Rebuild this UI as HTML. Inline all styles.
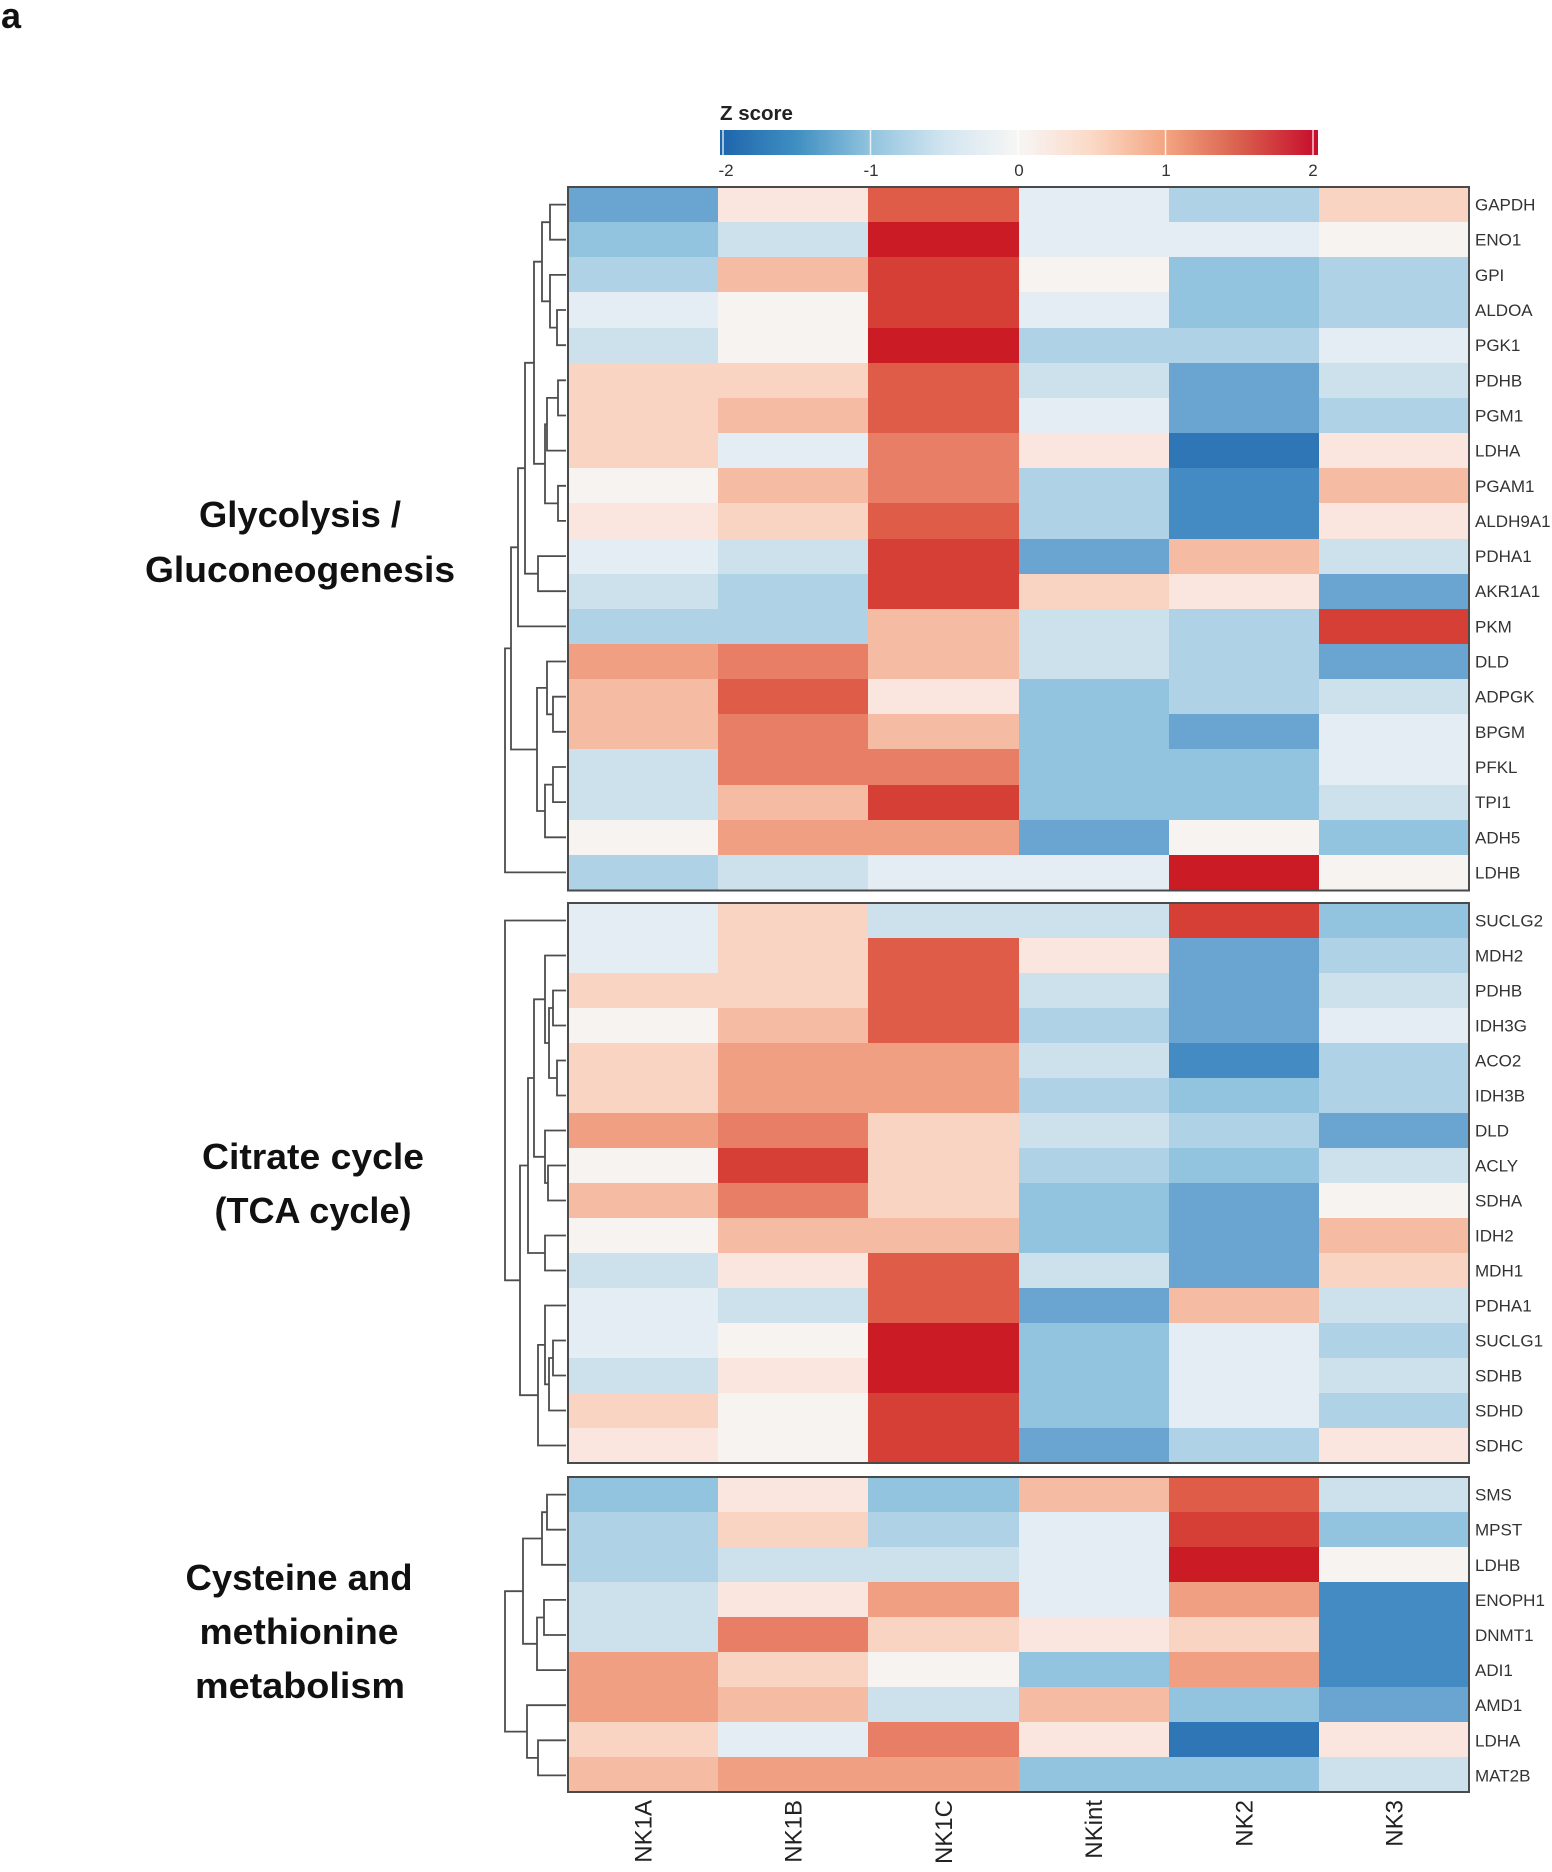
<!DOCTYPE html>
<html><head><meta charset="utf-8"><style>
html,body{margin:0;padding:0;background:#fff}
body{width:1552px;height:1872px;position:relative;overflow:hidden;font-family:"Liberation Sans",Arial,sans-serif}
.g{position:absolute;left:568px;width:901px;display:grid;grid-template-columns:repeat(6,1fr)}
.g i{display:block}
#g1{top:187px;height:703px;grid-template-rows:repeat(20,1fr)}
#g2{top:903px;height:560px;grid-template-rows:repeat(16,1fr)}
#g3{top:1477px;height:315px;grid-template-rows:repeat(9,1fr)}
.B6{background:#2f76b6}.B5{background:#448ac3}.B4{background:#6aa4d0}.B3{background:#92c3df}
.B2{background:#afd2e6}.B1{background:#cde1ed}.B0{background:#e4edf3}.W{background:#f6f3f1}
.R0{background:#fae6de}.R1{background:#f9d4c3}.R2{background:#f6bca3}.R3{background:#f19f82}
.R4{background:#e97e66}.R5{background:#df5c49}.R6{background:#d53f35}.R7{background:#cb1b25}
svg{position:absolute;left:0;top:0}
</style></head><body>
<div class="g" id="g1">
<i class="B4"></i><i class="R0"></i><i class="R5"></i><i class="B0"></i><i class="B2"></i><i class="R1"></i>
<i class="B3"></i><i class="B1"></i><i class="R7"></i><i class="B0"></i><i class="B0"></i><i class="W"></i>
<i class="B2"></i><i class="R2"></i><i class="R6"></i><i class="W"></i><i class="B3"></i><i class="B2"></i>
<i class="B0"></i><i class="W"></i><i class="R6"></i><i class="B0"></i><i class="B3"></i><i class="B2"></i>
<i class="B1"></i><i class="W"></i><i class="R7"></i><i class="B2"></i><i class="B2"></i><i class="B0"></i>
<i class="R1"></i><i class="R1"></i><i class="R5"></i><i class="B1"></i><i class="B4"></i><i class="B1"></i>
<i class="R1"></i><i class="R2"></i><i class="R5"></i><i class="B0"></i><i class="B4"></i><i class="B2"></i>
<i class="R1"></i><i class="B0"></i><i class="R4"></i><i class="R0"></i><i class="B6"></i><i class="R0"></i>
<i class="W"></i><i class="R2"></i><i class="R4"></i><i class="B2"></i><i class="B5"></i><i class="R2"></i>
<i class="R0"></i><i class="R1"></i><i class="R5"></i><i class="B2"></i><i class="B5"></i><i class="R0"></i>
<i class="B0"></i><i class="B1"></i><i class="R6"></i><i class="B4"></i><i class="R2"></i><i class="B1"></i>
<i class="B1"></i><i class="B2"></i><i class="R6"></i><i class="R1"></i><i class="R0"></i><i class="B4"></i>
<i class="B2"></i><i class="B2"></i><i class="R2"></i><i class="B1"></i><i class="B2"></i><i class="R6"></i>
<i class="R3"></i><i class="R4"></i><i class="R2"></i><i class="B1"></i><i class="B2"></i><i class="B4"></i>
<i class="R2"></i><i class="R5"></i><i class="R0"></i><i class="B3"></i><i class="B2"></i><i class="B1"></i>
<i class="R2"></i><i class="R4"></i><i class="R2"></i><i class="B3"></i><i class="B4"></i><i class="B0"></i>
<i class="B1"></i><i class="R4"></i><i class="R4"></i><i class="B3"></i><i class="B3"></i><i class="B0"></i>
<i class="B1"></i><i class="R2"></i><i class="R6"></i><i class="B3"></i><i class="B3"></i><i class="B1"></i>
<i class="W"></i><i class="R3"></i><i class="R3"></i><i class="B4"></i><i class="W"></i><i class="B3"></i>
<i class="B2"></i><i class="B1"></i><i class="B0"></i><i class="B0"></i><i class="R7"></i><i class="W"></i>
</div>
<div class="g" id="g2">
<i class="B0"></i><i class="R1"></i><i class="B1"></i><i class="B1"></i><i class="R6"></i><i class="B3"></i>
<i class="B0"></i><i class="R1"></i><i class="R5"></i><i class="R0"></i><i class="B4"></i><i class="B2"></i>
<i class="R1"></i><i class="R1"></i><i class="R5"></i><i class="B1"></i><i class="B4"></i><i class="B1"></i>
<i class="W"></i><i class="R2"></i><i class="R5"></i><i class="B2"></i><i class="B4"></i><i class="B0"></i>
<i class="R1"></i><i class="R3"></i><i class="R3"></i><i class="B1"></i><i class="B5"></i><i class="B2"></i>
<i class="R1"></i><i class="R3"></i><i class="R3"></i><i class="B2"></i><i class="B3"></i><i class="B2"></i>
<i class="R3"></i><i class="R4"></i><i class="R1"></i><i class="B1"></i><i class="B2"></i><i class="B4"></i>
<i class="W"></i><i class="R6"></i><i class="R1"></i><i class="B2"></i><i class="B3"></i><i class="B1"></i>
<i class="R2"></i><i class="R4"></i><i class="R1"></i><i class="B3"></i><i class="B4"></i><i class="W"></i>
<i class="W"></i><i class="R2"></i><i class="R2"></i><i class="B3"></i><i class="B4"></i><i class="R2"></i>
<i class="B1"></i><i class="R0"></i><i class="R5"></i><i class="B1"></i><i class="B4"></i><i class="R1"></i>
<i class="B0"></i><i class="B1"></i><i class="R5"></i><i class="B4"></i><i class="R2"></i><i class="B1"></i>
<i class="B0"></i><i class="W"></i><i class="R7"></i><i class="B3"></i><i class="B0"></i><i class="B2"></i>
<i class="B1"></i><i class="R0"></i><i class="R7"></i><i class="B3"></i><i class="B0"></i><i class="B1"></i>
<i class="R1"></i><i class="W"></i><i class="R6"></i><i class="B3"></i><i class="B0"></i><i class="B2"></i>
<i class="R0"></i><i class="W"></i><i class="R6"></i><i class="B4"></i><i class="B2"></i><i class="R0"></i>
</div>
<div class="g" id="g3">
<i class="B3"></i><i class="R0"></i><i class="B3"></i><i class="R2"></i><i class="R5"></i><i class="B1"></i>
<i class="B2"></i><i class="R1"></i><i class="B2"></i><i class="B0"></i><i class="R6"></i><i class="B3"></i>
<i class="B2"></i><i class="B1"></i><i class="B1"></i><i class="B0"></i><i class="R7"></i><i class="W"></i>
<i class="B1"></i><i class="R0"></i><i class="R3"></i><i class="B0"></i><i class="R3"></i><i class="B5"></i>
<i class="B1"></i><i class="R4"></i><i class="R1"></i><i class="R0"></i><i class="R1"></i><i class="B5"></i>
<i class="R3"></i><i class="R1"></i><i class="W"></i><i class="B3"></i><i class="R3"></i><i class="B5"></i>
<i class="R3"></i><i class="R2"></i><i class="B1"></i><i class="R2"></i><i class="B3"></i><i class="B4"></i>
<i class="R1"></i><i class="B0"></i><i class="R4"></i><i class="R0"></i><i class="B6"></i><i class="R0"></i>
<i class="R2"></i><i class="R3"></i><i class="R3"></i><i class="B3"></i><i class="B3"></i><i class="B1"></i>
</div>
<svg width="1552" height="1872" viewBox="0 0 1552 1872" xmlns="http://www.w3.org/2000/svg">
<defs>
<linearGradient id="cb" x1="0" x2="1" y1="0" y2="0">
<stop offset="0.005" stop-color="#1f66ad"/>
<stop offset="0.128" stop-color="#3f8fc2"/>
<stop offset="0.252" stop-color="#92c4de"/>
<stop offset="0.375" stop-color="#d2e5f0"/>
<stop offset="0.498" stop-color="#f7f6f5"/>
<stop offset="0.622" stop-color="#fbd9c6"/>
<stop offset="0.745" stop-color="#f3a582"/>
<stop offset="0.868" stop-color="#d9604d"/>
<stop offset="0.992" stop-color="#c8102e"/>
</linearGradient>
</defs>
<text x="1" y="28" font-family="Liberation Sans, Arial, sans-serif" font-weight="bold" font-size="36" fill="#111">a</text>
<text x="720" y="120" font-family="Liberation Sans, Arial, sans-serif" font-weight="bold" font-size="20.5" fill="#222">Z score</text>
<rect x="720" y="130" width="598" height="25" fill="url(#cb)"/>
<g stroke="#ffffff" stroke-width="1.5" opacity="0.8">
<line x1="723" y1="130" x2="723" y2="155"/><line x1="870.5" y1="130" x2="870.5" y2="155"/>
<line x1="1018" y1="130" x2="1018" y2="155"/><line x1="1165.5" y1="130" x2="1165.5" y2="155"/>
<line x1="1313" y1="130" x2="1313" y2="155"/>
</g>
<g font-family="Liberation Sans, Arial, sans-serif" font-size="17" fill="#333" text-anchor="middle">
<text x="726" y="176">-2</text><text x="871" y="176">-1</text><text x="1019" y="176">0</text>
<text x="1166" y="176">1</text><text x="1313" y="176">2</text>
</g>
<g fill="none" stroke="#4a4a4a" stroke-width="2">
<rect x="568" y="187" width="901" height="703.5"/>
<rect x="568" y="903" width="901" height="560"/>
<rect x="568" y="1477" width="901" height="315"/>
</g>
<g fill="none" stroke="#4d4d4d" stroke-width="1.8">
<path d="M566 204.6H550V239.7H566M566 310H557V345.2H566M566 274.9H550V327.6H557M550 222.2H542V301.3H550M566 380.3H558V415.5H566M558 397.9H547V450.6H566M566 485.8H558V520.9H566M547 424.3H545V503.4H558M542 261.7H534V463.8H545M566 556.1H538V591.2H566M534 362.8H525V573.7H538M525 468.2H518V626.4H566M566 696.7H553V731.8H566M566 661.5H547V714.3H553M566 767H553V802.1H566M553 784.6H545V837.3H566M547 687.9H537V811H545M518 547.3H511V749.5H537M511 648.4H505V872.4H566"/>
<path d="M566 990.5H553V1025.5H566M566 1060.5H557V1095.5H566M553 1008H549V1078H557M566 955.5H545V1043H549M566 1165.5H548V1200.5H566M566 1130.5H545V1183H548M545 999.3H534V1156.8H545M566 1235.5H545V1270.5H566M534 1078H528V1253H545M566 1340.5H553V1375.5H566M553 1358H549V1410.5H566M566 1305.5H545V1384.3H549M545 1344.9H538V1445.5H566M528 1165.5H520V1395.2H538M566 920.5H505V1280.3H520"/>
<path d="M566 1494.6H547V1529.7H566M547 1512.2H542V1564.8H566M566 1599.9H544V1635H566M544 1617.5H537V1670.1H566M542 1538.5H523V1643.8H537M566 1740.3H538V1775.4H566M566 1705.2H527V1757.9H538M523 1591.2H505V1731.6H527"/>
</g>
<g font-family="Liberation Sans, Arial, sans-serif" font-size="17" fill="#333">
<text x="1475" y="210.6">GAPDH</text><text x="1475" y="245.7">ENO1</text><text x="1475" y="280.9">GPI</text>
<text x="1475" y="316">ALDOA</text><text x="1475" y="351.2">PGK1</text><text x="1475" y="386.3">PDHB</text>
<text x="1475" y="421.5">PGM1</text><text x="1475" y="456.6">LDHA</text><text x="1475" y="491.8">PGAM1</text>
<text x="1475" y="526.9">ALDH9A1</text><text x="1475" y="562.1">PDHA1</text><text x="1475" y="597.2">AKR1A1</text>
<text x="1475" y="632.4">PKM</text><text x="1475" y="667.5">DLD</text><text x="1475" y="702.7">ADPGK</text>
<text x="1475" y="737.8">BPGM</text><text x="1475" y="773">PFKL</text><text x="1475" y="808.1">TPI1</text>
<text x="1475" y="843.3">ADH5</text><text x="1475" y="878.4">LDHB</text>
<text x="1475" y="926.5">SUCLG2</text><text x="1475" y="961.5">MDH2</text><text x="1475" y="996.5">PDHB</text>
<text x="1475" y="1031.5">IDH3G</text><text x="1475" y="1066.5">ACO2</text><text x="1475" y="1101.5">IDH3B</text>
<text x="1475" y="1136.5">DLD</text><text x="1475" y="1171.5">ACLY</text><text x="1475" y="1206.5">SDHA</text>
<text x="1475" y="1241.5">IDH2</text><text x="1475" y="1276.5">MDH1</text><text x="1475" y="1311.5">PDHA1</text>
<text x="1475" y="1346.5">SUCLG1</text><text x="1475" y="1381.5">SDHB</text><text x="1475" y="1416.5">SDHD</text>
<text x="1475" y="1451.5">SDHC</text>
<text x="1475" y="1500.6">SMS</text><text x="1475" y="1535.7">MPST</text><text x="1475" y="1570.8">LDHB</text>
<text x="1475" y="1605.9">ENOPH1</text><text x="1475" y="1641">DNMT1</text><text x="1475" y="1676.1">ADI1</text>
<text x="1475" y="1711.2">AMD1</text><text x="1475" y="1746.3">LDHA</text><text x="1475" y="1781.4">MAT2B</text>
</g>
<g font-family="Liberation Sans, Arial, sans-serif" font-size="24" fill="#222" text-anchor="end">
<text transform="translate(651.6,1800) rotate(-90)">NK1A</text>
<text transform="translate(801.7,1800) rotate(-90)">NK1B</text>
<text transform="translate(951.9,1800) rotate(-90)">NK1C</text>
<text transform="translate(1102.1,1800) rotate(-90)">NKint</text>
<text transform="translate(1252.3,1800) rotate(-90)">NK2</text>
<text transform="translate(1402.4,1800) rotate(-90)">NK3</text>
</g>
<g font-family="Liberation Sans, Arial, sans-serif" font-weight="bold" font-size="36" fill="#111" text-anchor="middle">
<text x="300" y="527" textLength="202" lengthAdjust="spacingAndGlyphs">Glycolysis /</text>
<text x="300" y="582" textLength="310" lengthAdjust="spacingAndGlyphs">Gluconeogenesis</text>
<text x="313" y="1169" textLength="222" lengthAdjust="spacingAndGlyphs">Citrate cycle</text>
<text x="313" y="1223" textLength="197" lengthAdjust="spacingAndGlyphs">(TCA cycle)</text>
<text x="299" y="1590" textLength="227" lengthAdjust="spacingAndGlyphs">Cysteine and</text>
<text x="299" y="1644" textLength="199" lengthAdjust="spacingAndGlyphs">methionine</text>
<text x="300" y="1698" textLength="210" lengthAdjust="spacingAndGlyphs">metabolism</text>
</g>
</svg>
</body></html>
